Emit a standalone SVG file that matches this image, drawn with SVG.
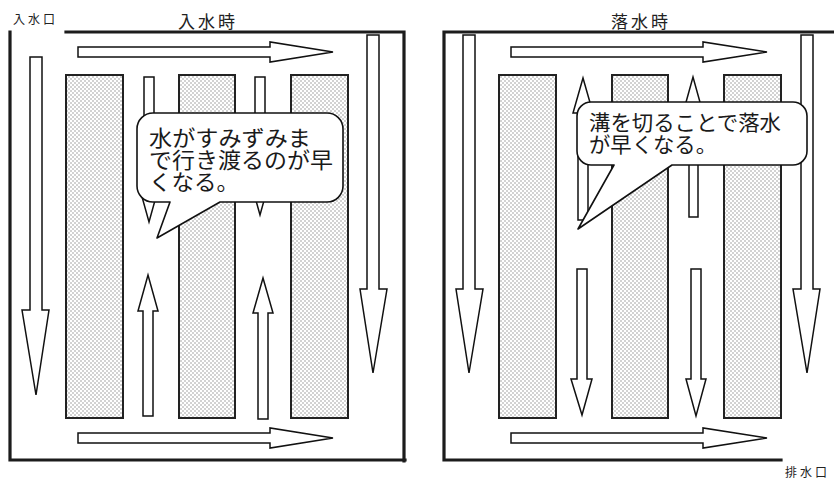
<svg xmlns="http://www.w3.org/2000/svg" width="834" height="479" viewBox="0 0 834 479">
<style>
.frame{fill:none;stroke:#1c1c1c;stroke-width:3.2;stroke-linecap:square}
.col{fill:url(#dots);stroke:#222;stroke-width:2}
.arr{fill:#fff;stroke:#111;stroke-width:1.5;stroke-linejoin:miter}
.callout{fill:#fff;stroke:#111;stroke-width:1.6;stroke-linejoin:round}
.title{font-family:"Noto Sans CJK JP","Noto Sans",sans-serif;font-size:17px;fill:#222;letter-spacing:3px}
.port{font-family:"Noto Sans CJK JP","Noto Sans",sans-serif;font-size:12px;fill:#222;letter-spacing:3px}
.ctext{font-family:"Noto Sans CJK JP","Noto Sans",sans-serif;fill:#1a1a1a}
</style>
<defs>
<pattern id="dots" width="4" height="4" patternUnits="userSpaceOnUse">
<rect width="4" height="4" fill="#fff"/>
<rect width="2" height="2" fill="#d2d2d2"/>
<rect x="2" y="2" width="2" height="2" fill="#d2d2d2"/>
</pattern>
</defs>
<rect width="834" height="479" fill="#fff"/>

<!-- LEFT PANEL: 入水時 -->
<g id="left-panel">
<g id="left-frame">
<polyline class="frame" points="66,32 404,32 404,461"/>
<polyline class="frame" points="10,32 10,460 405,460"/>
</g>
<text id="left-title" class="title" x="208" y="28" text-anchor="middle">入水時</text>
<text id="inlet-label" class="port" x="13" y="24">入水口</text>
<g id="left-columns">
<rect id="lcol1" class="col" x="66" y="75" width="57" height="343"/>
<rect id="lcol2" class="col" x="179" y="75" width="56" height="343"/>
<rect id="lcol3" class="col" x="291" y="75" width="57" height="343"/>
</g>
<g id="left-arrows">
<polygon class="arr" points="78,47 270,47 270,42 333,52 270,62 270,57 78,57"/>
<polygon class="arr" points="78,433 270,433 270,428 333,438 270,448 270,443 78,443"/>
<polygon class="arr" points="30,57 42,57 42,310 49,310 36,395 22,310 30,310"/>
<polygon class="arr" points="367,35 379,35 379,289 387,289 373,373 360,289 367,289"/>
<polygon class="arr" points="143,416 153,416 153,311 158,311 148,275 138,311 143,311"/>
<polygon class="arr" points="258,419 268,419 268,313 273,313 263,278 253,313 258,313"/>
<polygon class="arr" points="144,77 154,77 154,186 159,186 149,222 139,186 144,186"/>
<polygon class="arr" points="255,77 265,77 265,179 270,179 260,215 250,179 255,179"/>
</g>
<g id="left-callout">
<path class="callout" d="M153,113 H327 A16,16 0 0 1 343,129 V186 A16,16 0 0 1 327,202 H220 L157,238 L170,202 H153 A16,16 0 0 1 137,186 V129 A16,16 0 0 1 153,113 Z"/>
<text class="ctext" font-size="21.5">
<tspan x="149" y="146" textLength="162" lengthAdjust="spacingAndGlyphs">水がすみずみま</tspan>
<tspan x="149" y="168" textLength="184" lengthAdjust="spacingAndGlyphs">で行き渡るのが早</tspan>
<tspan x="149" y="190" textLength="90" lengthAdjust="spacingAndGlyphs">くなる。</tspan>
</text>
</g>
</g>

<!-- RIGHT PANEL: 落水時 -->
<g id="right-panel">
<g id="right-frame">
<polyline class="frame" points="834,32 444,32 444,460 781,460"/>
</g>
<text id="right-title" class="title" x="641" y="28" text-anchor="middle">落水時</text>
<text id="outlet-label" class="port" x="785" y="477">排水口</text>
<g id="right-columns">
<rect id="rcol1" class="col" x="499" y="75" width="57" height="343"/>
<rect id="rcol2" class="col" x="612" y="75" width="56" height="343"/>
<rect id="rcol3" class="col" x="724" y="75" width="57" height="343"/>
</g>
<g id="right-arrows">
<polygon class="arr" points="511,47 703,47 703,42 767,52 703,62 703,57 511,57"/>
<polygon class="arr" points="511,433 703,433 703,428 767,438 703,448 703,443 511,443"/>
<polygon class="arr" points="463,35 475,35 475,289 483,289 469,373 456,289 463,289"/>
<polygon class="arr" points="801,35 813,35 813,289 820,289 807,373 793,289 801,289"/>
<polygon class="arr" points="577,269 587,269 587,379 592,379 582,415 571,379 577,379"/>
<polygon class="arr" points="691,269 701,269 701,379 706,379 696,416 686,379 691,379"/>
<polygon class="arr" points="578,220 588,220 588,113 593,113 583,78 573,113 578,113"/>
<polygon class="arr" points="689,217 698,217 698,113 703,113 693,77 683,113 689,113"/>
</g>
<g id="right-callout">
<path class="callout" d="M591,102 H793 A14,14 0 0 1 807,116 V151 A14,14 0 0 1 793,165 H672 L578,229 L614,165 H591 A14,14 0 0 1 577,151 V116 A14,14 0 0 1 591,102 Z"/>
<text class="ctext" font-size="21">
<tspan x="589" y="130" textLength="192" lengthAdjust="spacingAndGlyphs">溝を切ることで落水</tspan>
<tspan x="589" y="152" textLength="128" lengthAdjust="spacingAndGlyphs">が早くなる。</tspan>
</text>
</g>
</g>
</svg>
